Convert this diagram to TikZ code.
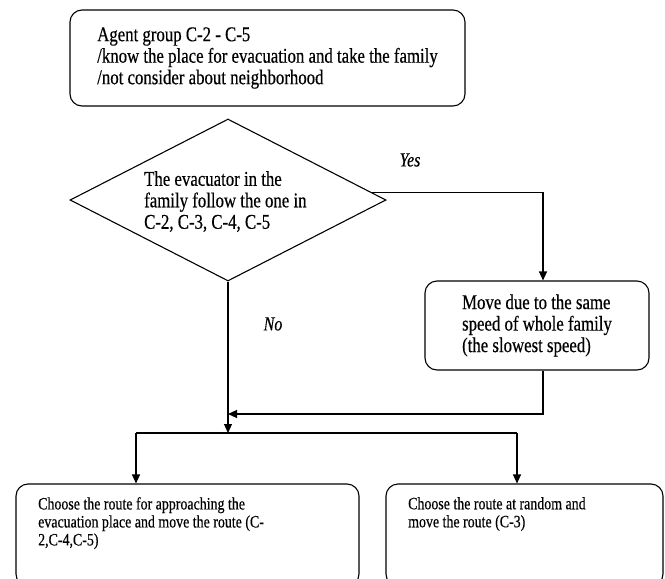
\documentclass[tikz,border=0pt]{standalone}
\usepackage{fontspec}
\setmainfont{Liberation Serif}[FakeStretch=0.8,FakeBold=0.4]
\usetikzlibrary{shapes.geometric,arrows.meta}
\begin{document}
\begin{tikzpicture}[x=1pt,y=-1pt,
  every node/.style={font=\fontsize{21}{21.5}\selectfont},
  flow/.style={line width=1.1pt},
  arr/.style={flow,-{Triangle[length=9pt,width=8pt]}},
  rbox/.style={draw,line width=1.1pt,rounded corners=12pt,inner sep=0pt},
  note/.style={inner sep=0pt,align=left,anchor=north west},
  small/.style={font=\fontsize{17.4}{18}\selectfont},
  tag/.style={inner sep=0pt,font=\fontsize{20}{21}\selectfont\itshape}]
\useasboundingbox (0,0) rectangle (665,579);
\clip (0,0) rectangle (665,579);
\fill[white] (0,0) rectangle (665,579);

% start box
\node[rbox,minimum width=395pt,minimum height=96pt,align=left] (top) at (267.5,58)
  {Agent group C-2 - C-5\\/know the place for evacuation and take the family\\/not consider about neighborhood};

% decision
\node[draw,diamond,line width=1.1pt,inner sep=0pt,aspect=1.95,
      minimum width=316pt,minimum height=162pt] (d) at (228,200) {};
\node[note] (dq) at (144,171)
  {The evacuator in the\\family follow the one in\\C-2, C-3, C-4, C-5};

% family speed box
\node[rbox,minimum width=224pt,minimum height=89pt,align=left] (m) at (537,325.5)
  {Move due to the same\\speed of whole family\\(the slowest speed)};

% route choice boxes
\node[rbox,minimum width=343pt,minimum height=102pt] (b1) at (187.5,535) {};
\node[rbox,minimum width=277pt,minimum height=102pt] (b2) at (524.5,535) {};
\node[note,small] (t1) at (38,497)
  {Choose the route for approaching the\\evacuation place and move the route (C-\\2,C-4,C-5)};
\node[note,small] (t2) at (408,497)
  {Choose the route at random and\\move the route (C-3)};

% branch labels
\node[tag] (yes) at (410,160) {Yes};
\node[tag] (no) at (273,324) {No};

% connectors
\coordinate (join) at (228,414);
\coordinate (split) at (228,433);
\coordinate (sl) at (136,433);
\coordinate (sr) at (517,433);
\draw[arr] (d.3) -| ([xshift=6pt]m.north);
\draw[arr] ([xshift=6pt]m.south) |- (join);
\draw[arr] (d.south) -- (split);
\draw[flow] (sl) -- (sr);
\draw[arr] (sl) -- (sl |- b1.north);
\draw[arr] (sr) -- (sr |- b2.north);
\end{tikzpicture}
\end{document}
